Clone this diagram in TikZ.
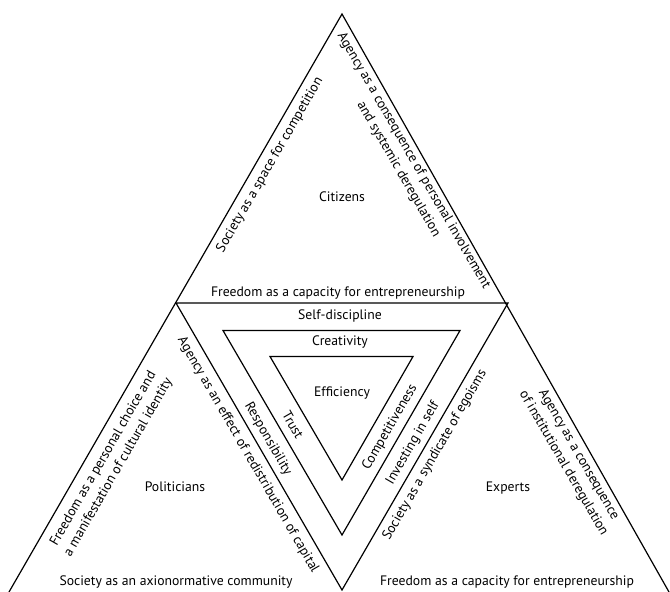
\documentclass[tikz,border=0pt]{standalone}
\usepackage{fontspec}
\setmainfont{PT Sans}
\begin{document}
\begin{tikzpicture}[x=1pt,y=-1pt,
  edge/.style={line width=1.2pt, line join=miter},
  lbl/.style={font=\fontsize{13.7}{17.5}\selectfont, inner sep=0pt, align=center}]
\useasboundingbox (0,0) rectangle (670,592);
% outer frame
\coordinate (A) at (342,14);
\coordinate (L) at (176,303);
\coordinate (R) at (508,303);
\coordinate (M) at (342,590);
\coordinate (BL) at (9,592);
\coordinate (BR) at (669,592);
% inner triangles
\coordinate (Pa) at (223,330.5);
\coordinate (Pb) at (460,330.5);
\coordinate (Pc) at (342,535);
\coordinate (Qa) at (270,356.5);
\coordinate (Qb) at (413,356.5);
\coordinate (Qc) at (342,480);
\draw[edge] (BL) -- (A) -- (BR);
\draw[edge] (L) -- (R) -- (M) -- cycle;
\draw[edge] (Pa) -- (Pb) -- (Pc) -- cycle;
\draw[edge] (Qa) -- (Qb) -- (Qc) -- cycle;
% top triangle
\node[lbl] (cit) at (342,197) {Citizens};
\node[lbl] (f1) at (338,293) {Freedom as a capacity for entrepreneurship};
\node[lbl, rotate=60] (s1) at (270,165) {Society as a space for competition};
\node[lbl, rotate=-60] (a1) at (406,165) {Agency as a consequence of personal involvement\\and systemic deregulation};
% left triangle
\node[lbl] (pol) at (175,487) {Politicians};
\node[lbl] (s2) at (176,582) {Society as an axionormative community};
\node[lbl, rotate=60] (f2) at (111,463) {Freedom as a personal choice and\\a manifestation of cultural identity};
\node[lbl, rotate=-60] (a2) at (248,455) {Agency as an effect of redistribution of capital};
\node[lbl, rotate=-60] (resp) at (268,439) {Responsibility};
\node[lbl, rotate=-60] (trust) at (293,425) {Trust};
% middle
\node[lbl] (sd) at (340,316) {Self-discipline};
\node[lbl] (cre) at (340,342) {Creativity};
\node[lbl] (eff) at (342,393) {Efficiency};
\node[lbl, rotate=60] (comp) at (390,427) {Competitiveness};
\node[lbl, rotate=60] (inv) at (413,443) {Investing in self};
\node[lbl, rotate=60] (s3) at (435,455) {Society as a syndicate of egoisms};
% right triangle
\node[lbl] (exp) at (508,488) {Experts};
\node[lbl] (f3) at (507,582) {Freedom as a capacity for entrepreneurship};
\node[lbl, rotate=-60] (a3) at (571,459) {Agency as a consequence\\of institutional deregulation};
\end{tikzpicture}
\end{document}
